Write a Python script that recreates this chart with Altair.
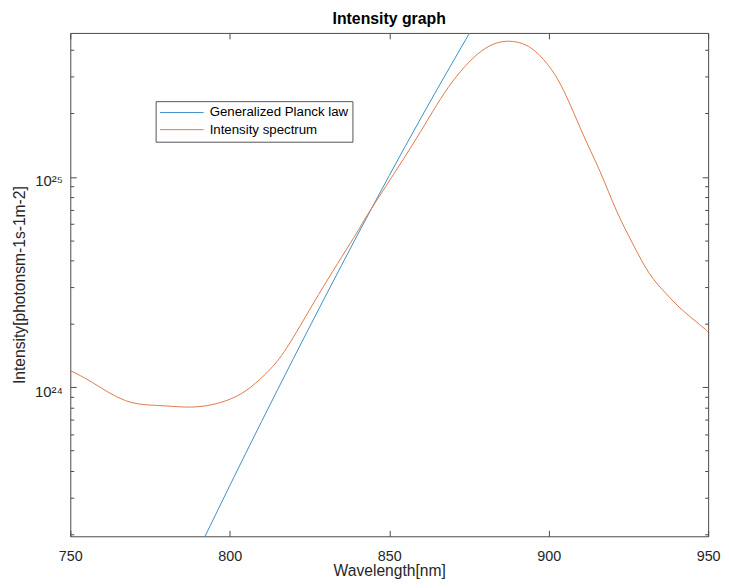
import altair as alt
import pandas as pd

# ---- data ----
series_names = ["Generalized Planck law", "Intensity spectrum"]
series_colors = ["#3d8fc6", "#e0784a"]

planck_wavelength = [790, 800, 810, 820, 830, 840, 850, 860, 870, 880]
planck_intensity = [1.67e23, 3.41e23, 6.89e23, 1.374e24, 2.71e24, 5.28e24,
                    1.014e25, 1.91e25, 3.53e25, 6.43e25]

spectrum_wavelength = [750, 756.9, 767.3, 777.6, 785.9, 793.1, 800.3, 806.5, 812.7,
                       818.9, 829.3, 839.6, 844.3, 858.2, 868.5, 878.9, 887.7,
                       894.4, 899.6, 904.7, 910.9, 916.1, 921.3, 926.4, 931.6, 936.8,
                       941.9, 948.7, 950]
spectrum_intensity = [1.20e24, 1.055e24, 8.65e23, 8.20e23, 8.06e23, 8.20e23, 8.81e23,
                      1.00e24, 1.22e24, 1.63e24, 3.00e24, 5.35e24, 7.02e24,
                      1.496e25, 2.66e25, 3.96e25, 4.41e25, 4.10e25, 3.43e25, 2.57e25,
                      1.578e25, 1.061e25, 6.89e24, 4.80e24, 3.47e24, 2.79e24, 2.33e24,
                      1.91e24, 1.82e24]

x_domain = [750, 950]
y_domain = [1.96e23, 4.83e25]
x_ticks = [750, 800, 850, 900, 950]
y_major_ticks = [1e24, 1e25]
y_minor_ticks = [2e23, 3e23, 4e23, 5e23, 6e23, 7e23, 8e23, 9e23,
                 2e24, 3e24, 4e24, 5e24, 6e24, 7e24, 8e24, 9e24,
                 2e25, 3e25, 4e25]

df = pd.concat([
    pd.DataFrame({"wavelength": planck_wavelength, "intensity": planck_intensity,
                  "series": series_names[0]}),
    pd.DataFrame({"wavelength": spectrum_wavelength, "intensity": spectrum_intensity,
                  "series": series_names[1]}),
], ignore_index=True)

FONT = "Liberation Sans"
AX = "#262626"
BOX = "#4a4a4a"

x_scale = alt.Scale(domain=x_domain, nice=False, zero=False)
y_scale = alt.Scale(type="log", domain=y_domain, nice=False)

base = alt.Chart(df)

lines = base.mark_line(clip=True, strokeWidth=1, interpolate="natural").encode(
    x=alt.X("wavelength:Q", scale=x_scale,
            axis=alt.Axis(orient="bottom", values=x_ticks, title="Wavelength[nm]",
                          offset=-6, tickSize=6, labelPadding=13, labelFlush=False,
                          domain=False, grid=False,
                          titleY=46, titleBaseline="alphabetic")),
    y=alt.Y("intensity:Q", scale=y_scale,
            axis=alt.Axis(orient="left", values=y_major_ticks,
                          labelExpr="'10' + (datum.value < 5e24 ? '²⁴' : '²⁵')",
                          title="Intensity[photonsm-1s-1m-2]",
                          offset=-6, tickSize=6, labelPadding=8, labelOffset=4,
                          labelFlush=False, labelFontSize=15,
                          domain=False, grid=False,
                          titleX=-52, titleY=254.5, titleBaseline="alphabetic",
                          titleAngle=270)),
    color=alt.Color("series:N",
                    scale=alt.Scale(domain=series_names, range=series_colors),
                    legend=alt.Legend(orient="none", legendX=86.3, legendY=69, title=None,
                                      symbolType="stroke", symbolSize=1936,
                                      symbolStrokeWidth=1, clipHeight=15, rowPadding=2.3,
                                      labelOffset=5.6, labelFont=FONT, labelFontSize=13.4,
                                      labelColor="black", fillColor="white",
                                      strokeColor="#555555", padding=4)),
    order=alt.Order("wavelength:Q"),
)

major_opposite = base.mark_line(opacity=0, clip=True).encode(
    x=alt.X("wavelength:Q", scale=x_scale,
            axis=alt.Axis(orient="top", values=x_ticks, labels=False, title=None,
                          offset=-6, tickSize=6, domain=False, grid=False)),
    y=alt.Y("intensity:Q", scale=y_scale,
            axis=alt.Axis(orient="right", values=y_major_ticks, labels=False, title=None,
                          offset=-6, tickSize=6, domain=False, grid=False)),
    detail="series:N",
)

minor_left = base.mark_line(opacity=0, clip=True).encode(
    x=alt.X("wavelength:Q", scale=x_scale, axis=None),
    y=alt.Y("intensity:Q", scale=y_scale,
            axis=alt.Axis(orient="left", values=y_minor_ticks, labels=False, title=None,
                          offset=-3.5, tickSize=3.5, domain=False, grid=False)),
    detail="series:N",
)

minor_right = base.mark_line(opacity=0, clip=True).encode(
    x=alt.X("wavelength:Q", scale=x_scale, axis=None),
    y=alt.Y("intensity:Q", scale=y_scale,
            axis=alt.Axis(orient="right", values=y_minor_ticks, labels=False, title=None,
                          offset=-3.5, tickSize=3.5, domain=False, grid=False)),
    detail="series:N",
)

chart = alt.layer(lines, major_opposite, minor_left, minor_right).properties(
    width=645, height=509,
    autosize=alt.AutoSizeParams(type="none"),
    padding={"left": 63, "top": 22, "right": 13, "bottom": 41},
    title=alt.TitleParams("Intensity graph", font=FONT, fontSize=16, fontWeight="bold",
                          color="black", offset=6, anchor="middle", frame="group"),
).configure_view(
    stroke=BOX, strokeWidth=1
).configure_axis(
    labelFont=FONT, labelFontSize=14.5, labelColor=AX, tickColor=BOX, tickWidth=1,
    titleFont=FONT, titleFontSize=15.8, titleFontWeight="normal", titleColor=AX,
    labelOverlap=False,
)

chart.save("out.html", embed_options={"renderer": "svg", "actions": False})
